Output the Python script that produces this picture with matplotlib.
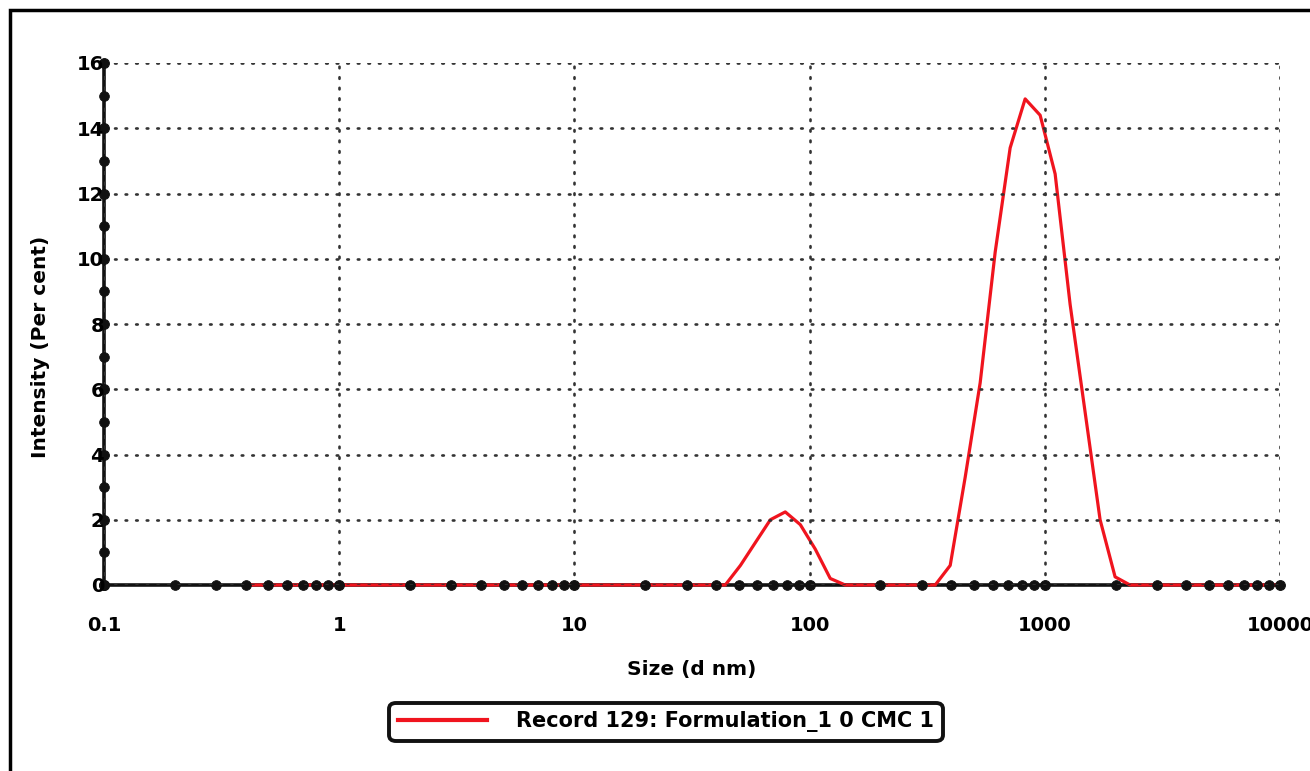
import matplotlib
matplotlib.use("Agg")
import matplotlib.pyplot as plt
import matplotlib.patches as patches
from matplotlib.ticker import LogLocator, NullFormatter

# size distribution by intensity (nm, %)
size_nm = [0.4, 43.8, 50.8, 58.8, 68.1, 78.8, 91.3, 105.7, 122.4, 141.8,
           342.0, 396.1, 458.6, 531.2, 615.1, 712.4, 825.0, 955.4, 1106.5,
           1281.3, 1483.8, 1718.3, 1990.0, 2304.0, 10000.0]
intensity = [0, 0, 0.6, 1.3, 2.0, 2.24, 1.85, 1.1, 0.2, 0,
             0, 0.6, 3.3, 6.2, 10.2, 13.4, 14.9, 14.4, 12.6,
             8.6, 5.3, 2.0, 0.25, 0, 0]

x_ticks = [0.1, 1, 10, 100, 1000, 10000]
x_labels = ["0.1", "1", "10", "100", "1000", "10000"]
y_ticks = [0, 2, 4, 6, 8, 10, 12, 14, 16]
y_minor = [1, 3, 5, 7, 9, 11, 13, 15]
legend_label = "Record 129: Formulation_1 0 CMC 1"

plt.rcParams["font.family"] = ["DejaVu Sans"]
plt.rcParams["font.weight"] = "bold"

fig = plt.figure(figsize=(13.1, 7.71), dpi=100)
ax = fig.add_axes([104 / 1310, 186 / 771, 1176 / 1310, 522 / 771])

ax.plot(size_nm, intensity, color="#f0141e", lw=2.3, clip_on=False,
        zorder=2, label=legend_label)

ax.set_xscale("log")
ax.set_xlim(0.1, 10000)
ax.set_ylim(0, 16)

ax.set_xticks(x_ticks)
ax.set_xticklabels(x_labels)
ax.xaxis.set_minor_locator(LogLocator(base=10, subs=range(2, 10)))
ax.xaxis.set_minor_formatter(NullFormatter())
ax.set_yticks(y_ticks)
ax.set_yticks(y_minor, minor=True)

ax.set_axisbelow(False)
ax.grid(True, which="major", color="#333333", lw=1.9,
        linestyle=(0, (0.6, 3.4)), dash_capstyle="round")

for side in ["top", "right"]:
    ax.spines[side].set_visible(False)
for side in ["left", "bottom"]:
    ax.spines[side].set_linewidth(2.6)
    ax.spines[side].set_color("#111111")
    ax.spines[side].set_zorder(1)

ax.tick_params(axis="both", which="both", length=0)
ax.tick_params(axis="x", which="major", pad=22, labelsize=14)
ax.tick_params(axis="y", which="major", pad=0, labelsize=14)

for axis in [ax.xaxis, ax.yaxis]:
    for t in axis.get_major_ticks() + axis.get_minor_ticks():
        t.tick1line.set_marker("o")
        t.tick1line.set_markersize(7)
        t.tick1line.set_markerfacecolor("#111111")
        t.tick1line.set_markeredgecolor("#111111")

for lab in ax.get_xticklabels() + ax.get_yticklabels():
    lab.set_fontweight("bold")

ax.set_xlabel("Size (d nm)", fontsize=14.5, fontweight="bold", labelpad=18)
ax.set_ylabel("Intensity (Per cent)", fontsize=14.5, fontweight="bold")
ax.yaxis.set_label_coords(-0.046, 0.456)

leg = fig.legend(loc="center", bbox_to_anchor=(666 / 1310, 49 / 771),
                 frameon=True, fancybox=True, fontsize=15, handlelength=4.3,
                 handletextpad=1.4, borderpad=0.4, framealpha=1)
leg.get_frame().set_edgecolor("#111111")
leg.get_frame().set_linewidth(2.8)
leg.get_frame().set_boxstyle("round", pad=0.0, rounding_size=0.3)
for line in leg.get_lines():
    line.set_linewidth(3)

# outer frame of the figure (right and bottom edges run off the canvas)
frame = patches.Rectangle((10 / 1310, -0.05), 1.2, 1 - 10 / 771 + 0.05,
                          transform=fig.transFigure, fill=False,
                          edgecolor="black", lw=2.5)
fig.patches.append(frame)

fig.savefig("out.png", dpi=100)
